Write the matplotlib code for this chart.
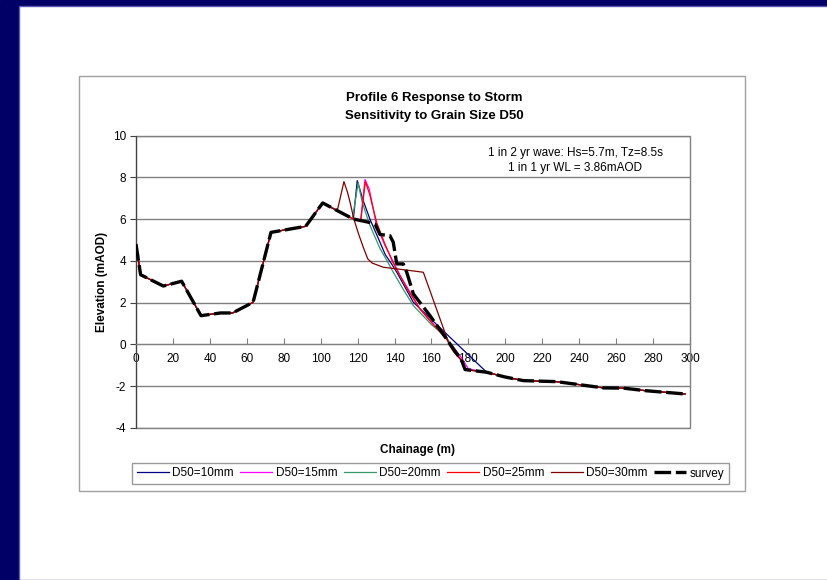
import numpy as np
import matplotlib
matplotlib.use('Agg')
from matplotlib import pyplot as plt
from matplotlib.patches import Rectangle

plt.rcParams['font.family'] = ['Liberation Sans', 'DejaVu Sans']
plt.rcParams['axes.unicode_minus'] = False

# survey profile (chainage m, elevation mAOD)
survey_x = [0, 2.5, 14.8, 24.7, 35.2, 45.8, 52.3, 63.4, 73.1, 91.9, 101.1, 109.0, 117.7,
            123.1, 126.7, 129.4, 132.1, 137.5, 139.3, 141.2, 144.7, 146.6, 150.2, 159.2,
            168.2, 176.4, 178.2, 189.9, 199.5, 209.7, 227.8, 253.3, 263.9, 275.6, 297.3]
survey_y = [4.81, 3.34, 2.80, 3.03, 1.38, 1.51, 1.51, 2.02, 5.37, 5.66, 6.78, 6.41, 6.01,
            5.91, 5.84, 5.77, 5.27, 5.21, 4.90, 3.86, 3.86, 3.46, 2.42, 1.38,
            0.26, -0.78, -1.20, -1.33, -1.55, -1.73, -1.78, -2.08, -2.09, -2.21, -2.37]

# modelled profiles, only the part that differs from the survey
d10_x = [117.7, 119.8, 123.0, 126.7, 132.1, 135.0, 138.4, 141.2, 150.2, 168.2, 189.9]
d10_y = [6.01, 7.85, 6.90, 6.00, 4.90, 4.30, 3.86, 3.46, 2.02, 0.50, -1.33]
d15_x = [121.7, 124.0, 126.3, 130.3, 134.8, 143.0, 153.8, 168.2, 176.0, 180.0, 189.9]
d15_y = [5.95, 7.90, 7.45, 5.69, 4.75, 3.30, 1.70, 0.26, -0.60, -1.17, -1.33]
d20_x = [117.2, 120.3, 122.5, 126.7, 132.1, 136.0, 139.3, 145.0, 150.2, 160.0, 168.2, 171.0]
d20_y = [6.03, 7.75, 6.80, 5.70, 4.60, 4.00, 3.46, 2.60, 1.86, 0.95, 0.34, -0.10]
d25_x = [121.7, 124.2, 126.5, 130.3, 134.8, 139.0, 143.0, 148.0, 153.8, 160.0, 168.2, 172.0]
d25_y = [5.95, 7.80, 7.20, 5.85, 4.81, 3.95, 3.30, 2.50, 1.70, 1.05, 0.26, -0.30]
d30_x = [109.0, 112.6, 114.5, 115.9, 118.0, 120.5, 123.1, 125.5, 127.9, 133.9, 145.0, 155.6, 169.8, 172.0]
d30_y = [6.41, 7.80, 7.30, 6.82, 6.00, 5.30, 4.65, 4.10, 3.90, 3.70, 3.58, 3.46, -0.05, -0.35]

labels = ['D50=10mm', 'D50=15mm', 'D50=20mm', 'D50=25mm', 'D50=30mm']
colors = ['#000080', '#FF00FF', '#339966', '#FF0000', '#800000']


def join_survey(px, py):
    sx = np.array(survey_x)
    sy = np.array(survey_y)
    before = sx < px[0]
    after = sx > px[-1]
    xs = np.concatenate([sx[before], px, sx[after]])
    ys = np.concatenate([sy[before], py, sy[after]])
    return xs, ys


fig = plt.figure(figsize=(8.27, 5.8), dpi=100)

# slide background
fig.patches.append(Rectangle((0, 0), 1, 1, transform=fig.transFigure, color='#000066', zorder=-10))
fig.patches.append(Rectangle((19 / 827, 0), 1, 1 - 6 / 580, transform=fig.transFigure,
                             facecolor='white', edgecolor='#5a5ab0', lw=1, zorder=-9))
# chart box
fig.patches.append(Rectangle((79 / 827, 1 - 491 / 580), 666 / 827, 415 / 580,
                             transform=fig.transFigure, facecolor='white',
                             edgecolor='#a0a0a0', lw=1, zorder=-8))

ax = fig.add_axes([136 / 827, 1 - 428 / 580, 554 / 827, 292.3 / 580])
ax.set_facecolor('none')

series = [(d10_x, d10_y), (d15_x, d15_y), (d20_x, d20_y), (d25_x, d25_y), (d30_x, d30_y)]
for (mx, my), lab, col in zip(series, labels, colors):
    xs, ys = join_survey(np.array(mx), np.array(my))
    ax.plot(xs, ys, color=col, lw=0.9, label=lab, zorder=3)

line, = ax.plot(survey_x, survey_y, color='black', lw=2.4, label='survey', zorder=4)
line.set_dashes([5, 1.4])

ax.set_xlim(0, 300)
ax.set_ylim(-4, 10)
ax.set_xticks(np.arange(0, 301, 20))
ax.set_yticks(np.arange(-4, 11, 2))
ax.yaxis.grid(True, color='#808080', lw=1)
ax.set_axisbelow(True)

for s in ['top', 'right']:
    ax.spines[s].set_visible(False)
ax.spines['bottom'].set_position(('data', 0))
ax.spines['bottom'].set_color('#808080')
ax.spines['left'].set_color('#404040')
ax.add_patch(Rectangle((0, 0), 1, 1, transform=ax.transAxes, fill=False,
                       edgecolor='#808080', lw=1, zorder=1, clip_on=False))

ax.tick_params(axis='x', direction='in', length=4, pad=6, labelsize=8.5, color='#808080')
ax.tick_params(axis='y', direction='out', length=4, pad=3, labelsize=8.5, color='#404040')

fig.text(434 / 827, 1 - 98 / 580, 'Profile 6 Response to Storm', ha='center', va='center',
         fontsize=9.5, fontweight='bold')
fig.text(434 / 827, 1 - 116 / 580, 'Sensitivity to Grain Size D50', ha='center', va='center',
         fontsize=9.5, fontweight='bold')
fig.text(575 / 827, 1 - 153 / 580, '1 in 2 yr wave: Hs=5.7m, Tz=8.5s', ha='center', va='center',
         fontsize=8.5)
fig.text(575 / 827, 1 - 168 / 580, '1 in 1 yr WL = 3.86mAOD', ha='center', va='center',
         fontsize=8.5)
fig.text(417 / 827, 1 - 450 / 580, 'Chainage (m)', ha='center', va='center',
         fontsize=8.5, fontweight='bold')
fig.text(102 / 827, 1 - 282 / 580, 'Elevation (mAOD)', ha='center', va='center',
         fontsize=8.5, fontweight='bold', rotation=90)

leg = fig.legend(loc='center', bbox_to_anchor=(430.5 / 827, 1 - 473.5 / 580), ncol=6,
                 fontsize=8.5, frameon=True, fancybox=False, handlelength=2.7,
                 handletextpad=0.3, columnspacing=0.55, borderpad=0.4, borderaxespad=0)
leg.get_frame().set_edgecolor('#808080')
leg.get_frame().set_linewidth(1)

fig.savefig('out.png', dpi=100)
